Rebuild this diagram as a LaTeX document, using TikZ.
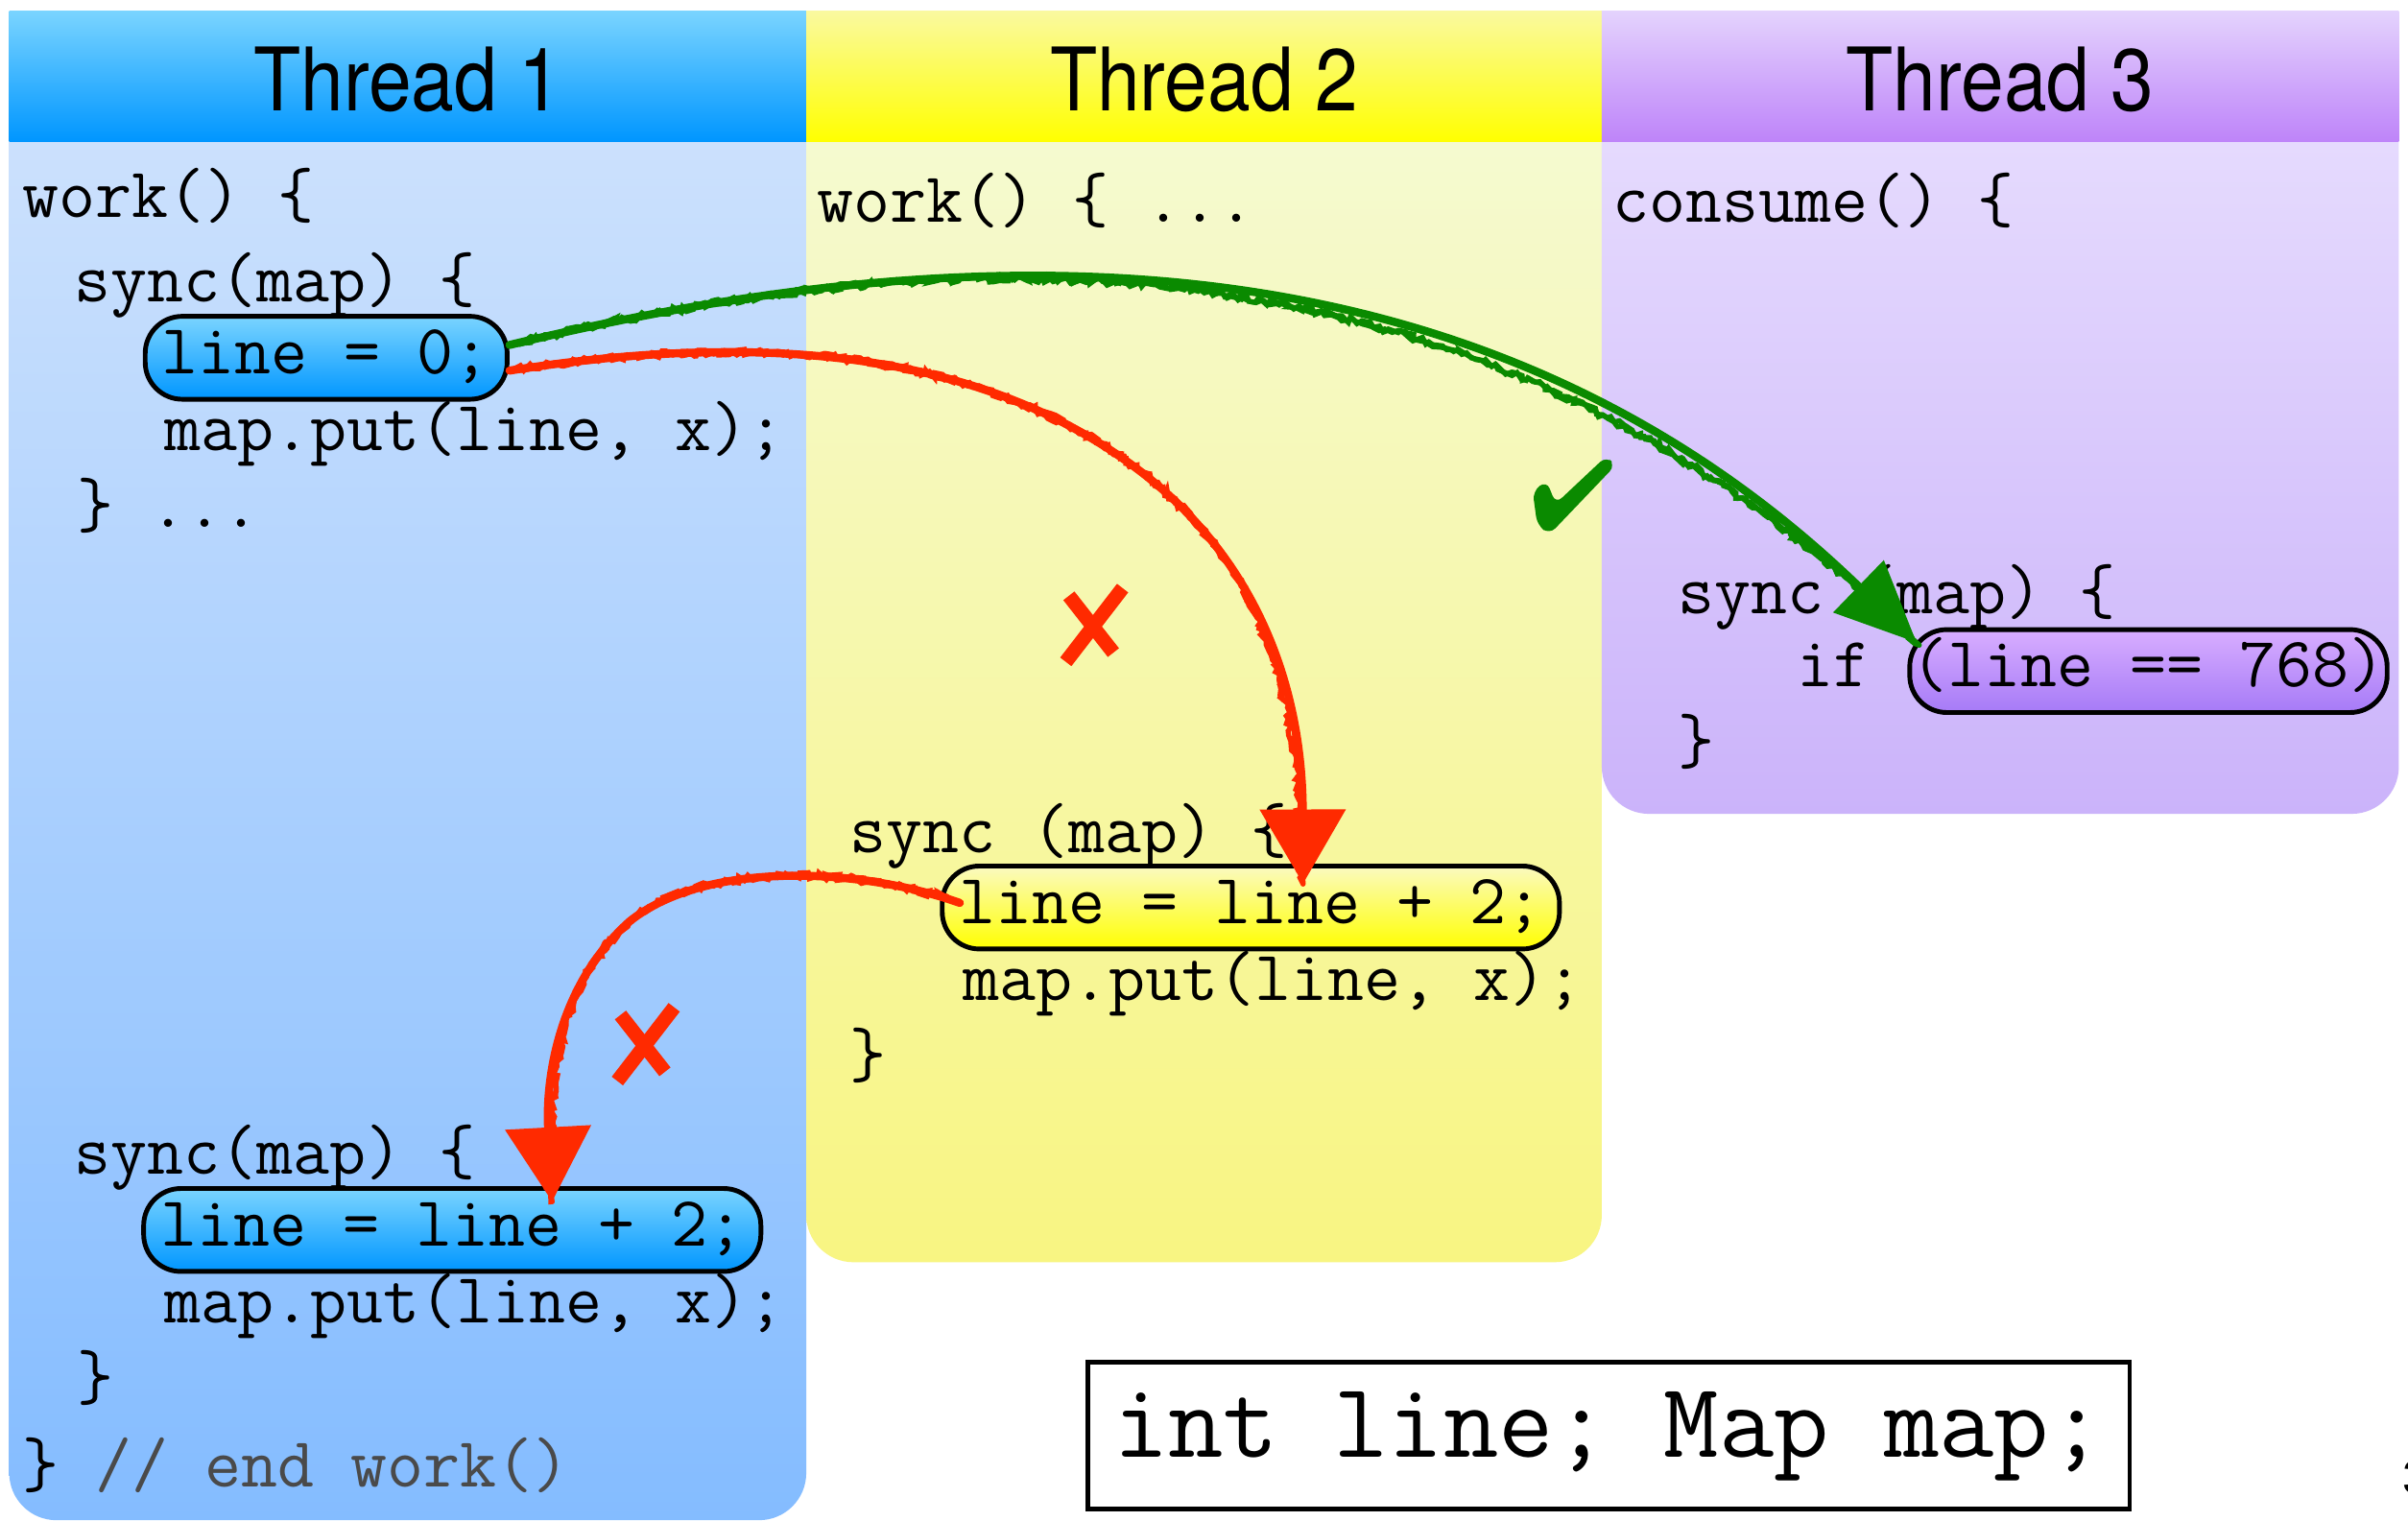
\documentclass[tikz,border=0pt]{standalone}
\usepackage{fontspec}
\usepackage{graphicx}
\setmainfont{TeX Gyre Heros}
\newfontfamily\headfont{TeX Gyre Heros}
\newfontfamily\numfont{Liberation Sans}
\usetikzlibrary{arrows.meta,calc,decorations.pathmorphing}

% column colours: header gradient and body gradient per thread
\definecolor{hdrA1}{HTML}{7AD4FF}
\definecolor{hdrA2}{HTML}{0096FF}
\definecolor{bodyA1}{HTML}{CEE2FD}
\definecolor{bodyA2}{HTML}{84BCFF}
\definecolor{hdrB1}{HTML}{FAF9A0}
\definecolor{hdrB2}{HTML}{FFFF00}
\definecolor{bodyB1}{HTML}{F5FAD3}
\definecolor{bodyB2}{HTML}{F8F582}
\definecolor{hdrC1}{HTML}{E4D3FD}
\definecolor{hdrC2}{HTML}{BE84F9}
\definecolor{bodyC1}{HTML}{E7DDFE}
\definecolor{bodyC2}{HTML}{CBB3FA}
\definecolor{pillB1}{HTML}{FBFAC0}
\definecolor{pillC1}{HTML}{D8AEFF}
\definecolor{pillC2}{HTML}{A67AF7}
\definecolor{chalkred}{HTML}{FF2A00}
\definecolor{chalkgreen}{HTML}{0A8A00}
\definecolor{commentgray}{HTML}{4A4A4A}

\newcommand\codesize{\ttfamily\fontsize{21}{25}\selectfont\addfontfeature{FakeBold=1.2}}
\newcommand\declsize{\ttfamily\fontsize{31.7}{37}\selectfont\addfontfeature{FakeBold=1.2}}

\begin{document}
\begin{tikzpicture}[x=0.016cm, y=-0.016cm,
  code/.style={anchor=west, inner sep=0pt, font=\codesize,
    text height=13.5pt, text depth=4pt},
  pill/.style={code, draw=black, line width=1.4pt, rounded corners=11pt,
    inner xsep=5pt, minimum height=24.6pt},
  header/.style={anchor=base, inner sep=0pt, font=\headfont\fontsize{26}{30}\selectfont},
  chalk/.style={line width=2.4pt, line cap=round},
  chalkrough/.style={line width=1.5pt, line cap=round, decorate,
    decoration={random steps, segment length=1.5pt, amplitude=1pt}},
  xmark/.style={draw=chalkred, line width=4.2pt},
]
\pgfmathsetseed{7}
\useasboundingbox (0,0) rectangle (1568,990);
\fill[white] (0,0) rectangle (1568,990);

% column bodies (tops hidden under the headers)
\shade[top color=bodyA1, bottom color=bodyA2, rounded corners=14pt] (6,60) rectangle (525,990);
\shade[top color=bodyB1, bottom color=bodyB2, rounded corners=14pt] (525,60) rectangle (1043,822);
\shade[top color=bodyC1, bottom color=bodyC2, rounded corners=14pt] (1043,60) rectangle (1562,530);

% column headers
\shade[top color=hdrA1, bottom color=hdrA2] (6,7) rectangle (525,92);
\shade[top color=hdrB1, bottom color=hdrB2] (525,7) rectangle (1043,92);
\shade[top color=hdrC1, bottom color=hdrC2] (1043,7) rectangle (1562,92);
\node[header] (h1) at (265.5,72) {\scalebox{0.88}[1]{Thread 1}};
\node[header] (h2) at (784,72) {\scalebox{0.88}[1]{Thread 2}};
\node[header] (h3) at (1302.5,72) {\scalebox{0.88}[1]{Thread 3}};

% Thread 1 code
\node[code] (t1a) at (14,131) {work() \{};
\node[code] (t1b) at (48,186) {sync(map) \{};
\node[pill, top color=hdrA1, bottom color=hdrA2] (p1) at (93,233) {line = 0;};
\node[code] (t1c) at (107,283) {map.put(line, x);};
\node[code] (t1d) at (50,333) {\} ...};
\node[code] (t1e) at (48,754) {sync(map) \{};
\node[pill, top color=hdrA1, bottom color=hdrA2] (p3) at (92,801) {line = line + 2;};
\node[code] (t1f) at (107,851) {map.put(line, x);};
\node[code] (t1g) at (50,901) {\}};
\node[code] (t1h) at (14,958) {\} \textcolor{commentgray}{// end work()}};

% Thread 2 code
\node[code] (t2a) at (532,134) {work() \{ ...};
\node[code] (t2b) at (553,545) {sync (map) \{};
\node[pill, top color=pillB1, bottom color=hdrB2] (p2) at (612,591) {line = line + 2;};
\node[code] (t2c) at (627,641) {map.put(line, x);};
\node[code] (t2d) at (553,691) {\}};

% Thread 3 code
\node[code] (t3a) at (1050,134) {consume() \{};
\node[code] (t3b) at (1092,389) {sync (map) \{};
\node[code] (t3c) at (1170,437) {if};
\node[pill, inner xsep=0.5pt, top color=pillC1, bottom color=pillC2] (p4) at (1242,437) {(line == 768)};
\node[code] (t3d) at (1092,487) {\}};

% shared declarations
\node[draw=black, line width=1.4pt, fill=white, anchor=west, inner xsep=7.5pt,
  minimum height=43.7pt, text height=19pt, text depth=6pt,
  font=\declsize] (decl) at (707,935) {int line; Map map;};

% page number at the right edge
\node[anchor=west, inner sep=0pt, font=\numfont\fontsize{14}{16}\selectfont] (pg) at (1564,962) {3};

% verdict marks
\draw[xmark] (694,431) -- (731,383);
\draw[xmark] (696,388) -- (725,425);
\draw[xmark] (402,704) -- (439,656);
\draw[xmark] (404,661) -- (433,698);
\fill[chalkgreen, rounded corners=2.5pt]
  (998,320) -- (1007,313) -- (1013,328) -- (1046,297) -- (1052,303)
  -- (1009,348) -- (1001,342) -- cycle;

% hand-drawn arrows
\coordinate (gEnd) at ($(p4.north west)+(6,10)$);
\coordinate (r1End) at ($(p2.north)+(34,13)$);
\coordinate (r2Start) at ($(p2.west)+(13,-3)$);
\coordinate (r2End) at ($(p3.north)+(65,10)$);

\draw[chalk, chalkgreen, -{Triangle[length=24pt,width=21pt]}]
  (p1.4) .. controls (600,160) and (950,130) .. (gEnd);
\foreach \s in {1,2}
  \draw[chalkrough, chalkgreen]
    (p1.4) .. controls (600,160) and (950,130) .. (gEnd);

\draw[chalk, chalkred, -{Triangle[length=22pt,width=25pt]}]
  (p1.356) .. controls (500,215) and (640,230) .. (740,305)
  .. controls (820,365) and (848,450) .. (r1End);
\foreach \s in {1,2}
  \draw[chalkrough, chalkred]
    (p1.356) .. controls (500,215) and (640,230) .. (740,305)
    .. controls (820,365) and (848,450) .. (r1End);

\draw[chalk, chalkred, -{Triangle[length=22pt,width=25pt]}]
  (r2Start) .. controls (560,565) and (460,560) .. (410,600)
  .. controls (365,640) and (355,700) .. (r2End);
\foreach \s in {1,2}
  \draw[chalkrough, chalkred]
    (r2Start) .. controls (560,565) and (460,560) .. (410,600)
    .. controls (365,640) and (355,700) .. (r2End);
\end{tikzpicture}
\end{document}
